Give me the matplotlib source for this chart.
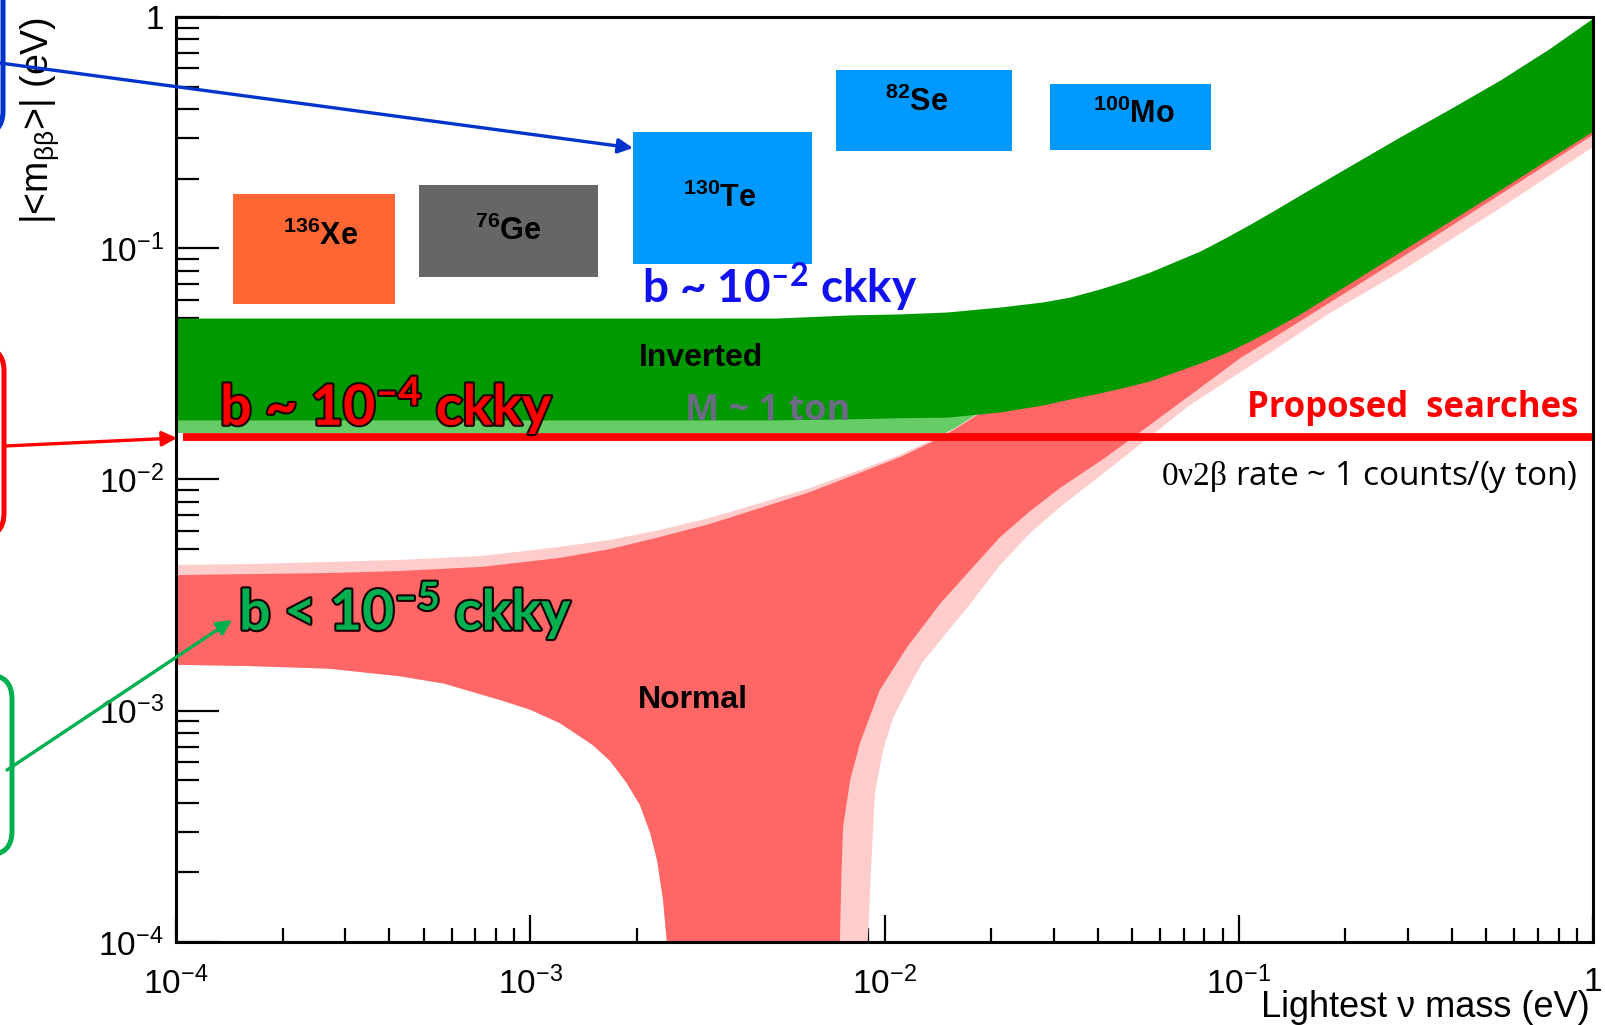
import matplotlib
matplotlib.use("Agg")
import matplotlib.pyplot as plt
import matplotlib.patheffects as pe
from matplotlib.patches import FancyBboxPatch, FancyArrowPatch, Rectangle
from matplotlib.ticker import FixedLocator, LogLocator, NullFormatter
from matplotlib.transforms import IdentityTransform

plt.rcParams["font.family"] = ["Liberation Sans", "DejaVu Sans"]
plt.rcParams["mathtext.fontset"] = "custom"
plt.rcParams["mathtext.rm"] = "Liberation Serif"
plt.rcParams["mathtext.default"] = "regular"

# ---- inverted hierarchy band (lightest mass in eV, |<m_bb>| in eV)
inv_x = [1.0e-4, 4.94e-3, 8.00e-3, 0.01107, 0.0150, 0.0212, 0.0280, 0.0334, 0.0406,
         0.0478, 0.0561, 0.0778, 0.0914, 0.1076, 0.1264, 0.149, 0.206, 0.285, 0.394,
         0.547, 0.757, 1.0]
inv_hi = [0.0499, 0.0499, 0.0515, 0.0520, 0.0530, 0.0557, 0.0586, 0.0615, 0.0667,
          0.0722, 0.0789, 0.0973, 0.1107, 0.127, 0.1464, 0.170, 0.227, 0.303, 0.400,
          0.534, 0.734, 0.99]
inv_lo = [0.0181, 0.0181, 0.0183, 0.0185, 0.0186, 0.0196, 0.0210, 0.0223, 0.0237,
          0.0251, 0.0267, 0.0319, 0.0352, 0.0397, 0.0452, 0.0520, 0.0707, 0.0964,
          0.131, 0.179, 0.246, 0.321]

# lighter strip under the inverted band
inv_ext_x = [1.0e-4, 2.0e-2]
inv_ext_lo = [0.0159, 0.0159]
inv_ext_hi = [0.0200, 0.0200]

# ---- normal hierarchy band, upper contour (inner / outer)
nh_up_x = [1.0e-4, 1.62e-4, 2.70e-4, 4.28e-4, 7.31e-4, 1.21e-3, 1.68e-3, 2.32e-3,
           3.21e-3, 4.46e-3, 6.17e-3, 8.53e-3, 0.01107, 0.01343, 0.01581, 0.0172,
           0.0212, 0.0280, 0.0778, 0.285, 1.0]
nh_up = [0.00386, 0.00390, 0.00394, 0.00402, 0.00419, 0.00458, 0.00500, 0.00564,
         0.00642, 0.00753, 0.00883, 0.0107, 0.0125, 0.0144, 0.0165, 0.0179,
         0.0221, 0.0277, 0.0598, 0.162, 0.65]
nh_up_outer = [0.00427, 0.00431, 0.00440, 0.00449, 0.00467, 0.00511, 0.00548, 0.00605,
               0.00682, 0.00791, 0.00919, 0.0110, 0.0128, 0.0147, 0.0167, 0.0181,
               0.0223, 0.0280, 0.0598, 0.162, 0.65]

# left side of the cancellation funnel
nh_left_x = [1.0e-4, 1.62e-4, 2.70e-4, 4.28e-4, 5.71e-4, 8.26e-4, 1.0e-3, 1.21e-3,
             1.50e-3, 1.68e-3, 1.87e-3, 2.04e-3, 2.18e-3, 2.28e-3, 2.37e-3, 2.43e-3]
nh_left = [0.00158, 0.00156, 0.00152, 0.00141, 0.00131, 0.00111, 0.00101, 8.85e-4,
           7.11e-4, 6.07e-4, 4.88e-4, 3.91e-4, 2.96e-4, 2.26e-4, 1.52e-4, 1.0e-4]

# right side of the funnel, inner contour
nh_right_x = [7.48e-3, 7.56e-3, 7.64e-3, 8.0e-3, 8.53e-3, 9.70e-3, 0.0116, 0.0144,
              0.0178, 0.0212, 0.0258, 0.0313, 0.0419, 0.0561, 0.0778, 0.101, 0.128,
              0.206, 0.353, 1.0]
nh_right = [1.0e-4, 2.0e-4, 3.14e-4, 5.02e-4, 7.26e-4, 1.23e-3, 1.89e-3, 2.92e-3,
            4.19e-3, 5.64e-3, 7.31e-3, 9.19e-3, 0.0124, 0.0172, 0.0249, 0.0335, 0.0418,
            0.0660, 0.111, 0.309]
# right side of the funnel, outer contour
nh_right_outer_x = [8.97e-3, 9.16e-3, 9.40e-3, 9.91e-3, 0.01057, 0.0116, 0.01277,
                    0.0144, 0.0178, 0.0212, 0.0258, 0.0313, 0.0462, 0.0728, 0.120,
                    0.181, 0.285, 0.547, 1.0]
nh_right_outer = [1.0e-4, 2.05e-4, 4.41e-4, 6.76e-4, 9.31e-4, 1.23e-3, 1.61e-3,
                  2.02e-3, 3.01e-3, 4.27e-3, 5.87e-3, 7.60e-3, 0.0121, 0.0210, 0.0345,
                  0.0525, 0.0789, 0.149, 0.274]

# sensitivity line for the proposed searches
search_x = [1.046e-4, 1.0]
search_level = 0.0152

x_ticks = [1e-4, 1e-3, 1e-2, 1e-1, 1.0]
x_tick_labels = ["$10^{-4}$", "$10^{-3}$", "$10^{-2}$", "$10^{-1}$", "1"]
y_ticks = [1e-4, 1e-3, 1e-2, 1e-1, 1.0]
y_tick_labels = ["$10^{-4}$", "$10^{-3}$", "$10^{-2}$", "$10^{-1}$", "1"]

isotopes = ["$^{136}$Xe", "$^{76}$Ge", "$^{130}$Te", "$^{82}$Se", "$^{100}$Mo"]
iso_colors = ["#ff6633", "#666666", "#0099ff", "#0099ff", "#0099ff"]


def band_polygon(up_x, up_y, right_x, right_y, left_x, left_y):
    xs = list(up_x) + list(right_x[::-1]) + list(left_x[::-1])
    ys = list(up_y) + list(right_y[::-1]) + list(left_y[::-1])
    return xs, ys


fig = plt.figure(figsize=(16.05, 10.25), dpi=100)
ax = fig.add_axes([0.10966, 0.08098, 0.88287, 0.90244])
ax.set_xscale("log")
ax.set_yscale("log")
ax.set_xlim(1e-4, 1)
ax.set_ylim(1e-4, 1)

ax.fill_between(inv_ext_x, inv_ext_lo, inv_ext_hi, color="#66cc66", lw=0, zorder=1)

px, py = band_polygon(nh_up_x, nh_up_outer, nh_right_outer_x, nh_right_outer, nh_left_x, nh_left)
ax.fill(px, py, color="#ffcccc", lw=0, zorder=2)
px, py = band_polygon(nh_up_x, nh_up, nh_right_x, nh_right, nh_left_x, nh_left)
ax.fill(px, py, color="#ff6666", lw=0, zorder=3)

ax.fill_between(inv_x, inv_lo, inv_hi, color="#009900", lw=0, zorder=4)

ax.plot(search_x, [search_level, search_level], color="#ff0000", lw=5.6,
        solid_capstyle="butt", zorder=6)

# axes frame and ROOT-like inward ticks
for s in ax.spines.values():
    s.set_linewidth(2.2)
    s.set_zorder(7)
ax.xaxis.set_major_locator(FixedLocator(x_ticks))
ax.yaxis.set_major_locator(FixedLocator(y_ticks))
ax.set_xticklabels(x_tick_labels)
ax.set_yticklabels(y_tick_labels)
ax.xaxis.set_minor_locator(LogLocator(base=10, subs=range(2, 10), numticks=20))
ax.yaxis.set_minor_locator(LogLocator(base=10, subs=range(2, 10), numticks=20))
ax.xaxis.set_minor_formatter(NullFormatter())
ax.yaxis.set_minor_formatter(NullFormatter())
ax.tick_params(which="both", direction="in", top=False, right=False, color="black")
ax.tick_params(axis="y", which="major", length=31, width=1.6, pad=9, labelsize=24)
ax.tick_params(axis="y", which="minor", length=16.5, width=1.6)
ax.tick_params(axis="x", which="major", length=19.5, width=1.6, pad=18, labelsize=24)
ax.tick_params(axis="x", which="minor", length=10, width=1.6)

ax.text(-0.1115, 1.0, r"|<m$_{\beta\beta}$>| (eV)", transform=ax.transAxes,
        rotation=90, ha="left", va="top", fontsize=27)
ax.text(0.9979, -0.0811, "Lightest \u03bd mass (eV)", transform=ax.transAxes,
        ha="right", va="baseline", fontsize=26)

# isotope boxes
box_pos = [(0.0402, 0.6897, 0.1144, 0.1189), (0.1715, 0.7189, 0.1263, 0.0995),
           (0.3225, 0.7330, 0.1263, 0.1427), (0.4658, 0.8551, 0.1242, 0.0876),
           (0.6168, 0.8562, 0.1136, 0.0714)]
label_pos = [(0.1020, 0.7535), (0.2343, 0.7589), (0.3839, 0.7946),
             (0.5229, 0.8984), (0.6761, 0.8854)]
for name, col, (bx, by, bw, bh), (lx, ly) in zip(isotopes, iso_colors, box_pos, label_pos):
    ax.add_patch(Rectangle((bx, by), bw, bh, transform=ax.transAxes, color=col,
                           lw=0, zorder=5))
    ax.text(lx, ly, name, transform=ax.transAxes, ha="center", va="baseline",
            fontsize=22, fontweight="bold", zorder=8)

ax.text(0.3705, 0.6314, "Inverted", transform=ax.transAxes, ha="center", va="center",
        fontsize=23, fontweight="bold", zorder=8)
ax.text(0.3649, 0.2616, "Normal", transform=ax.transAxes, ha="center", va="center",
        fontsize=23, fontweight="bold", zorder=8)
ax.text(0.3592, 0.5643, "M ~ 1 ton", transform=ax.transAxes, ha="left", va="baseline",
        fontsize=26, fontweight="bold", family=["Open Sans", "DejaVu Sans"],
        color="#6b6b85", zorder=8)
ax.text(0.9894, 0.5676, "Proposed  searches", transform=ax.transAxes, ha="right",
        va="baseline", fontsize=25, fontweight="bold",
        family=["Open Sans", "DejaVu Sans"], color="#ff0000", zorder=8)
ax.text(0.9887, 0.4941, r"$\mathrm{0\nu2\beta}$ rate ~ 1 counts/(y ton)",
        transform=ax.transAxes, ha="right", va="baseline", fontsize=24,
        family=["Open Sans", "DejaVu Sans"], zorder=8)

outline = [pe.withStroke(linewidth=3, foreground="#1a0000")]
ax.text(0.3289, 0.6908, "b ~ 10$^{\u20132}$ ckky", transform=ax.transAxes, ha="left",
        va="baseline", fontsize=33, fontweight="bold", family=["Lato", "DejaVu Sans"],
        color="#1010f0", zorder=9)
ax.text(0.0311, 0.5589, "b ~ 10$^{\u20134}$ ckky", transform=ax.transAxes, ha="left",
        va="baseline", fontsize=40, fontweight="bold", family=["Lato", "DejaVu Sans"],
        color="#ff0000", path_effects=outline, zorder=9)
ax.text(0.0445, 0.3373, "b < 10$^{\u20135}$ ckky", transform=ax.transAxes, ha="left",
        va="baseline", fontsize=40, fontweight="bold", family=["Lato", "DejaVu Sans"],
        color="#00b050", path_effects=outline, zorder=9)

# callout frames at the left margin and their arrows (figure pixels)
H = 1025
pix = IdentityTransform()
frames = [("#0033cc", -300, H - 135, 303, 300),
          ("#ff0000", -300, H - 537, 304, 190),
          ("#00b050", -300, H - 855, 312, 180)]
for col, x0, y0, w, h in frames:
    fig.add_artist(FancyBboxPatch((x0, y0), w, h, boxstyle="round,pad=0,rounding_size=24",
                                  transform=pix, fill=False, ec=col, lw=3.6))

arrows = [("#0033cc", (0, H - 63), (633, H - 148)),
          ("#ff0000", (5, H - 446), (177, H - 438)),
          ("#00b050", (7, H - 770), (232, H - 620))]
for col, a, b in arrows:
    fig.add_artist(FancyArrowPatch(a, b, arrowstyle="-|>", mutation_scale=22, lw=2.4,
                                   color=col, transform=pix, shrinkA=0, shrinkB=0,
                                   zorder=10))

fig.savefig("out.png", dpi=100)
